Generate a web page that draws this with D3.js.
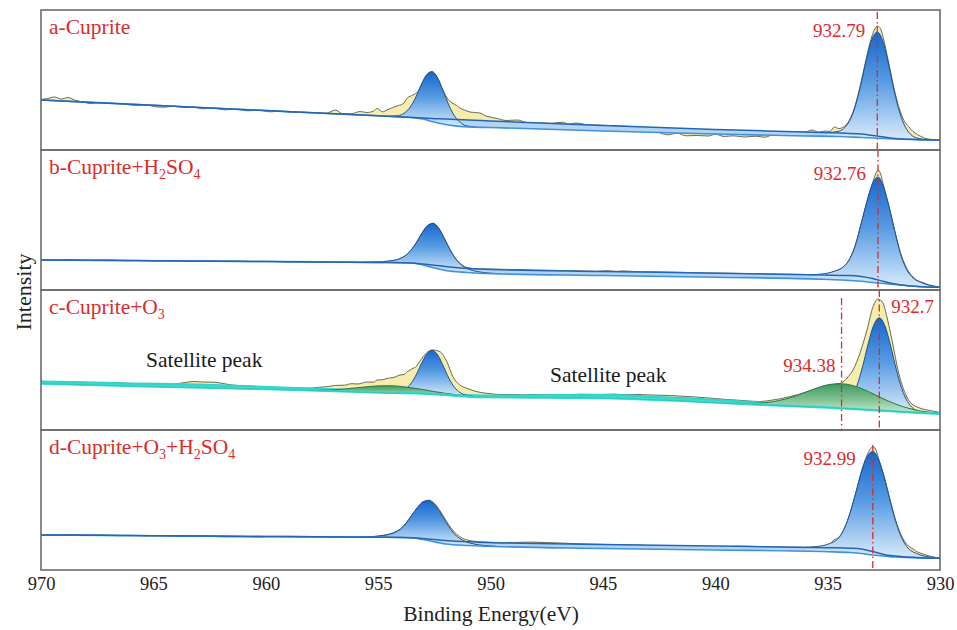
<!DOCTYPE html>
<html>
<head>
<meta charset="utf-8">
<script src="https://cdn.jsdelivr.net/npm/d3@7"></script>
<style>
  body { margin: 0; background: #fff; }
  text { font-family: "Liberation Serif", "Times New Roman", serif; }
</style>
</head>
<body>
<svg id="chart" width="957" height="630"></svg>
<script>
// Cu 2p XPS spectra of cuprite under four treatments (binding energy in eV, intensity in a.u.)
const energyDomain = [970, 930];
const tickLabels = [970, 965, 960, 955, 950, 945, 940, 935, 930];

// ---- a: Cuprite ----
// background: [energy, upper background, lower background]
const a_bg = [[970,50,50],[965,44.7,44.7],[960,39.4,39.4],[955,34.2,34.2],[953.5,32.5,32.5],[953,32,31],[952.6,31.5,28.5],[952,31,25.5],[951,30,23],[950,29,22.5],[945,24.5,19],[940,20.5,16],[936,18,14],[934.5,17,13.5],[933.5,16,12.5],[932.8,14,11.8],[932,11.5,11],[931,10.5,10.3],[930,10,10]];
const a_raw = [[970,50.5],[969.7,51.5],[969.4,53],[969.1,51],[968.8,52.5],[968.5,50],[968.1,47.8],[967.8,46.5],[967.4,47.5],[967,46.8],[966.5,46.3],[966.1,45.2],[965.7,44.6],[965.3,44.9],[964.9,43.2],[964.5,42.8],[964.1,43.8],[963.6,42.5],[963.2,42.9],[962.8,41.2],[962.3,41.8],[961.8,40.2],[961.3,40.8],[960.8,39.2],[960.3,39.8],[959.8,38.2],[959.3,38.8],[958.8,37.6],[958.3,37.8],[957.8,37.5],[957.3,36.8],[956.9,40],[956.6,36.5],[956.2,36.2],[955.8,38.5],[955.5,37.5],[955.2,39],[955.05,41.5],[954.8,38.2],[954.6,40],[954.4,42],[954.1,44.5],[953.9,46],[953.7,52],[953.45,55],[953.23,58.5],[953,69],[952.85,75.3],[952.6,78.5],[952.35,71.8],[952.1,59],[951.9,51],[951.71,47],[951.5,44.5],[951.36,42],[951.1,39.5],[950.91,38],[950.7,37.5],[950.47,37],[950.2,34],[950.02,33],[949.7,31.5],[949.3,29.5],[948.8,30],[948.4,27.5],[947.9,27.2],[947.3,26.6],[946.8,27.8],[946.5,25.8],[946.2,27],[945.6,25],[945,24.7],[944.4,24.2],[943.8,23.5],[943.2,22.8],[942.8,21],[942.5,17.5],[942.1,15.2],[941.7,16.8],[941.3,14.2],[940.8,14.5],[940.3,14],[940,15.8],[939.6,13.5],[939.2,14.2],[938.7,13],[938.2,13.8],[937.8,12.8],[937.5,15],[937.2,18.5],[936.8,18.2],[936.4,18.5],[936,18],[935.7,20],[935.4,17.8],[935.1,19],[934.9,18.5],[934.7,23],[934.5,21.5],[934.3,23],[934.04,29.5],[933.79,43.5],[933.54,65],[933.29,90.5],[933.04,113],[932.9,121],[932.79,124],[932.65,121.5],[932.54,113.5],[932.29,88],[932.04,61],[931.79,40],[931.6,29.5],[931.4,23.5],[931.2,18.5],[931,15.5],[930.7,12],[930.35,10.5],[930,10]];
const a_cu2p12 = [[954.6,0],[954.1,1.2],[953.85,3.8],[953.6,9.5],[953.35,19.6],[953.1,32.8],[952.85,44.6],[952.6,49.5],[952.35,44.6],[952.1,32.8],[951.85,19.6],[951.6,9.5],[951.35,3.8],[951.1,1.2],[950.6,0]];
const a_cu2p32 = [[935.04,0],[934.54,1.5],[934.29,4.6],[934.04,11.9],[933.79,25.9],[933.54,47.6],[933.29,73.5],[933.04,95.4],[932.79,104],[932.54,95.4],[932.29,73.5],[932.04,47.6],[931.79,25.9],[931.54,11.9],[931.29,4.6],[931.04,1.5],[930.54,0]];
const a_marks = [932.79];

// ---- b: Cuprite + H2SO4 ----
const b_bg = [[970,30,30],[965,29.3,29.3],[960,28.5,28.5],[955,27.6,27.6],[953.5,27,27],[953,26,25],[952.5,24.8,22],[952,23.5,19.5],[951,21.5,17.5],[950.5,21,16.7],[945,18.5,14.5],[940,16.8,12.8],[935.2,15,10.7],[934,14.5,9.5],[933.5,13.5,8.7],[933,11.5,7.5],[932.5,8.5,6.5],[932,6,5.5],[931,3.5,3.5],[930,2.7,2.7]];
const b_raw = [[970,30.3],[969.4,29.8],[968.8,30.4],[968.2,29.6],[967.5,29.4],[967,29.9],[966.3,29.3],[965.6,29.6],[965,29.1],[964.2,29.3],[963.5,28.8],[962.8,29.1],[962,28.7],[961.3,28.9],[960.5,28.5],[959.8,28.6],[959,28.2],[958.2,28.3],[957.4,27.9],[956.6,28],[955.8,27.7],[955.25,28],[954.8,28.4],[954.3,29.5],[954.05,31.2],[953.8,34.2],[953.55,39.2],[953.3,47.6],[953.05,56.9],[952.8,64.5],[952.55,66.8],[952.3,61.9],[952.05,51.6],[951.8,40.6],[951.55,31.6],[951.3,25.6],[951.05,22.5],[950.55,21.2],[950,20.9],[949.3,20.6],[948.6,20.4],[948,19.9],[947.3,19.7],[946.6,19.3],[946,19.1],[945.3,18.7],[944.8,19.3],[944.4,18.6],[944.1,19.1],[943.5,18.3],[942.8,18.1],[942,17.8],[941.2,17.5],[940.4,17],[939.6,16.8],[938.8,16.5],[938,16.3],[937.2,15.9],[936.4,15.7],[935.8,15.4],[935.26,15.6],[934.76,18],[934.5,20.5],[934.26,24],[934.01,31.5],[933.76,45.5],[933.51,66.5],[933.26,88],[933.01,106.5],[932.88,115],[932.76,120],[932.64,116],[932.51,104],[932.26,83],[932.01,59],[931.76,37.5],[931.51,23],[931.26,14.5],[931,9.5],[930.76,7.5],[930.5,5.2],[930.26,3.8],[930,2.8]];
const b_cu2p12 = [[955.55,0],[955.05,0.4],[954.55,1.5],[954.05,4],[953.8,7],[953.55,12.5],[953.3,21],[953.05,31.5],[952.8,40.5],[952.55,44.2],[952.3,40.5],[952.05,31.5],[951.8,21],[951.55,12.5],[951.3,7],[951.05,4],[950.55,1.5],[950.05,0.4],[949.55,0]];
const b_cu2p32 = [[935.76,0],[935.26,0.9],[934.76,3.5],[934.26,9.3],[934.01,16.8],[933.76,31],[933.51,52.5],[933.26,75],[933.01,94.4],[932.76,103],[932.51,94.4],[932.26,75],[932.01,52.5],[931.76,31],[931.51,16.8],[931.26,9.3],[930.76,3.5],[930.26,0.9],[930,0.3]];
const b_marks = [932.76];

// ---- c: Cuprite + O3 ----
const c_bg = [[970,46.5,46.5],[965,43.5,43.5],[960,41,41],[955,37.5,37.5],[953,36.5,36.5],[952,35.3,35.3],[950.5,33,33],[945,32,32],[940,27.5,27.5],[938.5,25.8,25.8],[935,22.5,22.5],[933,20,20],[931,17.3,17.3],[930,16.3,16.3]];
const c_raw = [[970,49],[969.6,48],[969,48.5],[968.3,47.8],[967.6,47.6],[967,47.2],[966.3,46.9],[965.6,46.2],[965,46.3],[964.4,45.9],[964,46.2],[963.6,47.5],[963.2,48.5],[962.8,48],[962.3,47.8],[961.9,46.5],[961.5,45],[961,44.2],[960.3,43.4],[959.6,42.6],[959,42.2],[958.5,41.8],[958,41.9],[957.6,42.8],[957.2,43.5],[956.9,44.6],[956.5,44.8],[956.2,46.3],[955.9,46],[955.5,48],[955.2,47.8],[955.05,50],[954.8,50.2],[954.6,51.7],[954.3,52.5],[954.03,55],[953.85,55.5],[953.7,58.3],[953.45,61.7],[953.3,63.5],[953.2,66.7],[953,73.3],[952.78,78.3],[952.56,80],[952.25,78.3],[951.94,68.3],[951.67,53.3],[951.36,45],[951.05,41.7],[950.6,38.3],[950.16,36.7],[949.58,35.5],[949,35.4],[948.5,35.2],[948,35.5],[947.5,35.2],[947,35.6],[946.5,35.4],[946,35.8],[945.5,35.6],[945,35.5],[944.5,35.9],[944,35.3],[943.5,35.6],[943,35.1],[942.5,34.8],[942,34.5],[941.5,33.8],[941,33.2],[940.5,32.3],[940,31.5],[939.5,30.5],[939,29.8],[938.5,29],[938,28.5],[937.5,29.8],[937.1,31.2],[936.7,33.3],[936.3,35.5],[935.9,38.3],[935.5,41],[935.2,43.3],[934.8,45.5],[934.45,46.7],[934.3,48.3],[934.1,53],[933.87,60],[933.56,77],[933.25,100],[932.98,123.3],[932.76,131],[932.54,127],[932.35,112],[932.2,97],[932.05,80],[931.9,63],[931.65,42.5],[931.45,32],[931.3,27],[930.9,22],[930.45,19.5],[930,17.5]];
const c_satellite1 = [[970,2],[968,2.3],[966,2.5],[963.5,3],[961,2.5],[958,2],[955,1.5],[952,0.8],[949,0.2],[948,0]];
const c_satellite2 = [[953,0],[951,0.8],[949,1.8],[947,2.6],[945,3.2],[943,3.4],[941,3.1],[939,2.5],[937,1.8],[935,1.2],[933,0.7],[931,0.3],[930,0.2]];
const c_cu2p12 = [[954.6,0],[954.1,0.9],[953.85,3],[953.6,7.9],[953.35,16.6],[953.1,28.5],[952.85,39.3],[952.6,43.7],[952.35,39.3],[952.1,28.5],[951.85,16.6],[951.6,7.9],[951.35,3],[951.1,0.9],[950.6,0]];
const c_cu2p32 = [[934.95,0],[934.45,1.3],[934.2,4.1],[933.95,10.6],[933.7,23.1],[933.45,42.4],[933.2,65.5],[932.95,84.9],[932.7,92.6],[932.45,84.9],[932.2,65.5],[931.95,42.4],[931.7,23.1],[931.45,10.6],[931.2,4.1],[930.95,1.3],[930.45,0]];
const c_cu2plus12 = [[958.5,0],[958,0.3],[957.5,0.7],[957,1.4],[956.5,2.5],[956,3.9],[955.5,5.4],[955,6.6],[954.5,7],[954,6.6],[953.5,5.4],[953,3.9],[952.5,2.5],[952,1.4],[951.5,0.7],[951,0.3],[950.5,0]];
const c_cu2plus32 = [[939.5,0],[938.88,0.4],[938.38,0.9],[937.88,1.9],[937.38,3.8],[936.88,6.7],[936.38,10.6],[935.88,15.3],[935.38,19.9],[934.88,23.3],[934.38,24.5],[933.88,23.3],[933.38,19.9],[932.88,15.3],[932.38,10.6],[931.88,6.7],[931.38,3.8],[930.88,1.9],[930.38,0.9],[930,0.5]];
const c_marks = [934.38, 932.7];

// ---- d: Cuprite + O3 + H2SO4 ----
const d_bg = [[970,35,35],[965,34.3,34.3],[960,33.5,33.5],[955,32.8,32.8],[953.5,32.3,32.3],[953,31.5,30.5],[952,29.5,26],[951,28.2,24.5],[950.5,27.8,24],[945,25.5,21.5],[940,24,20],[935,22.3,18.3],[934,21.8,17.5],[933.5,21,16.5],[933,18.5,15],[932.5,15.5,14],[932,14,13],[931,12.5,12],[930,11.7,11.7]];
const d_raw = [[970,35.2],[969.4,34.8],[968.7,35.5],[968,34.8],[967.3,34.9],[966.6,34.4],[966,34.6],[965.3,34.2],[964.6,34.3],[963.8,33.5],[963.2,34],[962.5,33.7],[961.8,33.1],[961,33.2],[960.3,33],[959.6,33.4],[958.8,33.2],[958,33.1],[957.2,33],[956.4,32.9],[955.75,33],[955.25,33.4],[954.75,34.8],[954.25,38],[954,41.2],[953.75,47.2],[953.5,55],[953.25,62.6],[953,68.3],[952.75,69.8],[952.5,66.6],[952.25,59.3],[952,50.2],[951.75,41.8],[951.5,35.6],[951.25,31.8],[950.75,28.8],[950.25,28],[949.5,27.5],[948.8,27.6],[948.2,27.9],[947.5,27.4],[946.8,26.9],[946,26.2],[945,25.6],[944,25.2],[943.2,24.8],[942.8,23.9],[942.3,23],[941.8,22.6],[941.2,22.8],[940.6,22.4],[940,22.7],[939.4,23.2],[939,23.8],[938,23.4],[937,23],[936,22.7],[935.5,22.6],[935,22.8],[934.75,29.5],[934.49,33],[934.24,42.5],[933.99,58],[933.74,78],[933.49,99],[933.24,115],[933.1,121],[932.99,123.3],[932.87,121],[932.74,112],[932.49,94],[932.24,72],[931.99,51],[931.74,35.5],[931.49,26],[931.2,21],[930.99,18],[930.7,15.5],[930.4,13.5],[930,12]];
const d_cu2p12 = [[955.75,0],[955.25,0.6],[954.75,1.8],[954.25,5],[954,8.5],[953.75,14.5],[953.5,22.5],[953.25,31],[953,37.5],[952.75,40],[952.5,37.5],[952.25,31],[952,22.5],[951.75,14.5],[951.5,8.5],[951.25,5],[950.75,1.8],[950.25,0.6],[949.75,0]];
const d_cu2p32 = [[935.99,0],[935.49,1],[934.99,3.5],[934.49,10.5],[934.24,20.3],[933.99,36],[933.74,56.3],[933.49,77.5],[933.24,93.8],[932.99,100],[932.74,93.8],[932.49,77.5],[932.24,56.3],[931.99,36],[931.74,20.3],[931.49,10.5],[930.99,3.5],[930.49,1],[930,0.3]];
const d_marks = [932.99];

// ---------------------------------------------------------------
const plot = { left: 41, right: 940, top: 10 };
const panelH = 140;
const RED = "#dc2b2b";

const x = d3.scaleLinear().domain(energyDomain).range([plot.left, plot.right]);

const panels = [
  { label: [["a-Cuprite"]], bg: a_bg, raw: a_raw, sats: [],
    peaks: [{ data: a_cu2p12, on: "low", kind: "blue" }, { data: a_cu2p32, on: "high", kind: "blue" }],
    marks: a_marks.map(e => ({ e, anchor: "end", dx: -12, ty: 27, y0: 2 })), teal: false },
  { label: [["b-Cuprite+H"], ["2", 1], ["SO"], ["4", 1]], bg: b_bg, raw: b_raw, sats: [],
    peaks: [{ data: b_cu2p12, on: "low", kind: "blue" }, { data: b_cu2p32, on: "high", kind: "blue" }],
    marks: b_marks.map(e => ({ e, anchor: "end", dx: -12, ty: 30, y0: 0 })), teal: false },
  { label: [["c-Cuprite+O"], ["3", 1]], bg: c_bg, raw: c_raw, sats: [c_satellite1, c_satellite2],
    peaks: [{ data: c_cu2p12, on: "low", kind: "blue" }, { data: c_cu2p32, on: "low", kind: "blue" },
            { data: c_cu2plus12, on: "low", kind: "green" }, { data: c_cu2plus32, on: "low", kind: "green" }],
    marks: [{ e: c_marks[0], anchor: "end", dx: -6, ty: 82, y0: 8 }, { e: c_marks[1], anchor: "start", dx: 12, ty: 23, y0: 0 }],
    teal: true },
  { label: [["d-Cuprite+O"], ["3", 1], ["+H"], ["2", 1], ["SO"], ["4", 1]], bg: d_bg, raw: d_raw, sats: [],
    peaks: [{ data: d_cu2p12, on: "low", kind: "blue" }, { data: d_cu2p32, on: "high", kind: "blue" }],
    marks: d_marks.map(e => ({ e, anchor: "end", dx: -17, ty: 35, y0: 15 })), teal: false }
];

const svg = d3.select("#chart");
const defs = svg.append("defs");

function gradient(id, stops) {
  const g = defs.append("linearGradient").attr("id", id)
    .attr("x1", 0).attr("y1", 0).attr("x2", 0).attr("y2", 1);
  stops.forEach(([o, c]) => g.append("stop").attr("offset", o).attr("stop-color", c));
}
gradient("gBlue", [[0, "#1767cc"], [0.45, "#559ae2"], [1, "#d9ebfb"]]);
gradient("gGreen", [[0, "#3e9a5e"], [0.5, "#7cbf8e"], [1, "#cdebd4"]]);
gradient("gTeal", [[0, "#2fd2c6"], [1, "#8ae9e2"]]);

const peakStyle = {
  blue: { fill: "url(#gBlue)", stroke: "#1c4f96" },
  green: { fill: "url(#gGreen)", stroke: "#2f7446" }
};

panels.forEach((p, i) => {
  const top = plot.top + i * panelH, bottom = top + panelH;
  const y = d3.scaleLinear().domain([0, 140]).range([bottom, top]);
  const hi = d3.scaleLinear(p.bg.map(d => d[0]), p.bg.map(d => d[1]));
  const lo = d3.scaleLinear(p.bg.map(d => d[0]), p.bg.map(d => d[2]));

  defs.append("clipPath").attr("id", "clip" + i).append("rect")
    .attr("x", plot.left).attr("y", top).attr("width", plot.right - plot.left).attr("height", panelH);
  const g = svg.append("g").attr("clip-path", `url(#clip${i})`);
  const curve = d3.curveMonotoneX;

  // measured signal relative to the background
  g.append("path").datum(p.raw)
    .attr("d", d3.area().x(d => x(d[0])).y0(d => y(hi(d[0]))).y1(d => y(d[1])).curve(curve))
    .attr("fill", "#f5eaa2").attr("fill-opacity", 0.9);
  g.append("path").datum(p.raw)
    .attr("d", d3.line().x(d => x(d[0])).y(d => y(d[1])).curve(curve))
    .attr("fill", "none").attr("stroke", "#6c6856").attr("stroke-width", 1);

  // band between the two background curves
  if (!p.teal) {
    g.append("path").datum(p.bg)
      .attr("d", d3.area().x(d => x(d[0])).y0(d => y(d[2])).y1(d => y(d[1])).curve(curve))
      .attr("fill", "#b3d4f2");
  }

  // broad satellite components
  p.sats.forEach(s => {
    g.append("path").datum(s)
      .attr("d", d3.area().x(d => x(d[0])).y0(d => y(lo(d[0]))).y1(d => y(lo(d[0]) + d[1])).curve(curve))
      .attr("fill", "url(#gTeal)");
    g.append("path").datum(s)
      .attr("d", d3.line().x(d => x(d[0])).y(d => y(lo(d[0]) + d[1])).curve(curve))
      .attr("fill", "none").attr("stroke", "#33d3c7").attr("stroke-width", 2);
  });

  // fitted components
  p.peaks.forEach(pk => {
    const topV = d => (pk.on === "high" ? hi(d[0]) : lo(d[0])) + d[1];
    const st = peakStyle[pk.kind];
    g.append("path").datum(pk.data)
      .attr("d", d3.area().x(d => x(d[0])).y0(d => y(lo(d[0]))).y1(d => y(topV(d))).curve(curve))
      .attr("fill", st.fill);
    g.append("path").datum(pk.data)
      .attr("d", d3.line().x(d => x(d[0])).y(d => y(topV(d))).curve(curve))
      .attr("fill", "none").attr("stroke", st.stroke).attr("stroke-width", 1);
  });

  // background curves
  const bgColorHi = p.teal ? "#2ccabf" : "#2466b2";
  const bgColorLo = p.teal ? "#3ddccf" : "#3f92dc";
  g.append("path").datum(p.bg)
    .attr("d", d3.line().x(d => x(d[0])).y(d => y(d[2])).curve(curve))
    .attr("fill", "none").attr("stroke", bgColorLo).attr("stroke-width", p.teal ? 2.4 : 1.6);
  g.append("path").datum(p.bg)
    .attr("d", d3.line().x(d => x(d[0])).y(d => y(d[1])).curve(curve))
    .attr("fill", "none").attr("stroke", bgColorHi).attr("stroke-width", p.teal ? 1.2 : 1.5);

  // peak position markers
  p.marks.forEach(m => {
    svg.append("line")
      .attr("x1", x(m.e)).attr("x2", x(m.e))
      .attr("y1", top + m.y0).attr("y2", bottom)
      .attr("stroke", RED).attr("stroke-width", 1.3)
      .attr("stroke-dasharray", "7,3,1.5,3");
    svg.append("text")
      .attr("x", x(m.e) + m.dx).attr("y", top + m.ty)
      .attr("text-anchor", m.anchor)
      .attr("font-size", 19).attr("fill", RED)
      .text(String(m.e));
  });

  // panel title with subscripts
  const t = svg.append("text").attr("x", plot.left + 8).attr("y", top + 24)
    .attr("font-size", 21.5).attr("fill", RED);
  let lowered = false;
  p.label.forEach(([s, sub]) => {
    const ts = t.append("tspan").text(s);
    if (sub && !lowered) { ts.attr("dy", 5).attr("font-size", 14); lowered = true; }
    else if (sub) { ts.attr("font-size", 14); }
    else if (lowered) { ts.attr("dy", -5); lowered = false; }
  });

  // panel frame
  svg.append("rect").attr("x", plot.left).attr("y", top)
    .attr("width", plot.right - plot.left).attr("height", panelH)
    .attr("fill", "none").attr("stroke", "#6b6b6b").attr("stroke-width", 1.6);
});

// satellite annotations in panel c
const cTop = plot.top + 2 * panelH;
svg.append("text").attr("x", 146).attr("y", cTop + 77).attr("font-size", 21.5).attr("fill", "#1a1a1a").text("Satellite peak");
svg.append("text").attr("x", 550).attr("y", cTop + 92).attr("font-size", 21.5).attr("fill", "#1a1a1a").text("Satellite peak");

// shared energy axis
const bottomY = plot.top + 4 * panelH;
const axis = svg.append("g").attr("transform", `translate(0,${bottomY})`)
  .call(d3.axisBottom(x).tickValues(tickLabels).tickSize(0).tickPadding(7).tickFormat(d3.format("d")));
axis.select(".domain").remove();
axis.selectAll("text").attr("font-size", 18.5).attr("fill", "#222")
  .attr("font-family", '"Liberation Serif", "Times New Roman", serif');

svg.append("text").attr("x", 491).attr("y", 621).attr("text-anchor", "middle")
  .attr("font-size", 21.5).attr("fill", "#222").text("Binding Energy(eV)");
svg.append("text").attr("transform", "translate(31,292) rotate(-90)").attr("text-anchor", "middle")
  .attr("font-size", 22).attr("fill", "#222").text("Intensity");
</script>
</body>
</html>
